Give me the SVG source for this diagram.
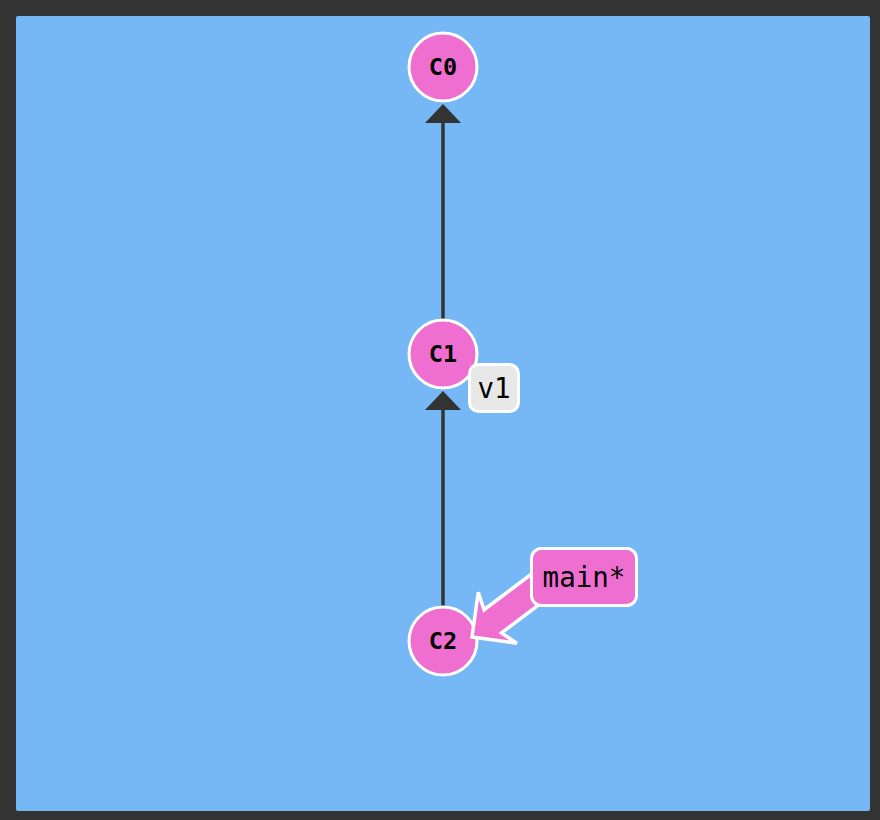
<svg xmlns="http://www.w3.org/2000/svg" width="880" height="820" viewBox="0 0 880 820">
<style>
.commit circle{fill:#ef6fd0;stroke:#fff;stroke-width:3}
.commit text{font-family:"DejaVu Sans Mono",monospace;font-weight:bold;font-size:23.5px;fill:#000;text-anchor:middle;dominant-baseline:central}
.edge line{stroke:#333;stroke-width:3.5}
.edge polygon{fill:#333}
.label text{font-family:"DejaVu Sans Mono",monospace;font-size:27.5px;fill:#000;text-anchor:middle;dominant-baseline:central}
</style>
<rect x="0" y="0" width="880" height="820" fill="#333"/>
<rect x="16" y="16" width="854" height="795" rx="2" fill="#75b8f5"/>
<g id="connectors" class="edge">
<line x1="443" y1="121" x2="443" y2="322"/>
<polygon points="443,104 425,123 461,123"/>
<line x1="443" y1="408" x2="443" y2="609"/>
<polygon points="443,391 425,410 461,410"/>
</g>
<g id="C0" class="commit"><circle cx="443" cy="67" r="34"/><text x="443" y="67">C0</text></g>
<g id="C1" class="commit"><circle cx="443" cy="354" r="34"/><text x="443" y="354">C1</text></g>
<g id="C2" class="commit"><circle cx="443" cy="641" r="34"/><text x="443" y="641">C2</text></g>
<g id="tag-v1" class="label">
<rect x="469.5" y="364.5" width="49" height="47" rx="9" fill="#e8e8e8" stroke="#fff" stroke-width="3"/>
<text x="494" y="388">v1</text>
</g>
<g id="branch-main" class="label">
<polygon transform="translate(472,637) rotate(-37)" points="0,0 32,-32 26,-14.5 95,-14.5 95,14.5 26,14.5 32,32" fill="#ef6fd0" stroke="#fff" stroke-width="3.5" stroke-linejoin="miter"/>
<rect x="531.5" y="548.5" width="105" height="57" rx="10" fill="#ef6fd0" stroke="#fff" stroke-width="3"/>
<text x="584" y="577">main*</text>
</g>
</svg>
